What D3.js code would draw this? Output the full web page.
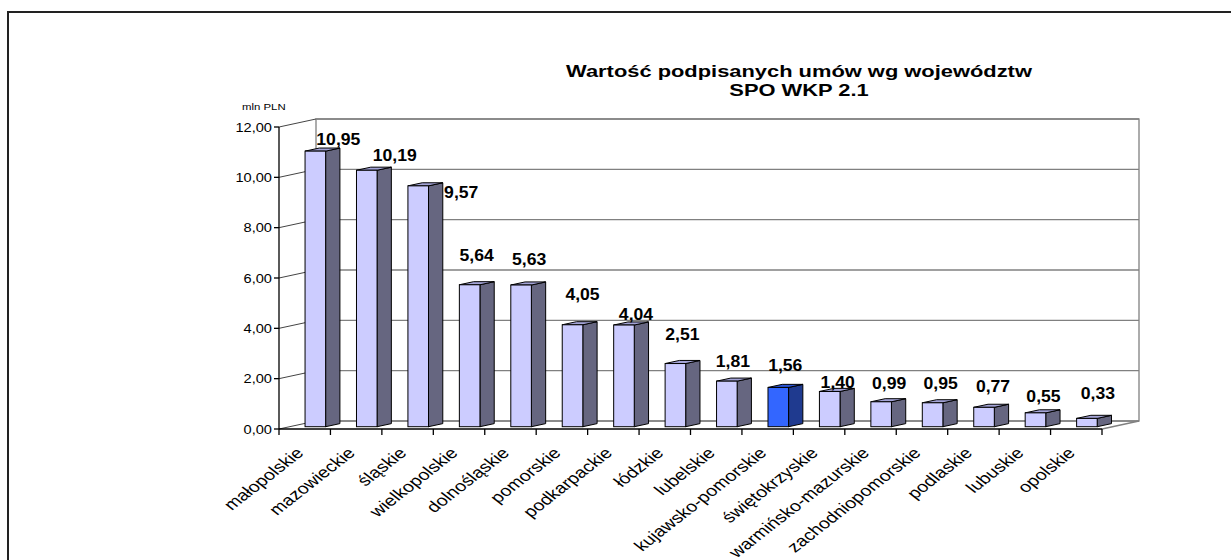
<!DOCTYPE html>
<html>
<head>
<meta charset="utf-8">
<script src="https://cdn.jsdelivr.net/npm/d3@7"></script>
<style>
  html, body { margin: 0; padding: 0; background: #ffffff; }
  svg { display: block; }
  text { font-family: Arial, "Liberation Sans", sans-serif; }
</style>
</head>
<body>
<script>
// ---- data ----
const categories = ["małopolskie", "mazowieckie", "śląskie", "wielkopolskie", "dolnośląskie",
  "pomorskie", "podkarpackie", "łódzkie", "lubelskie", "kujawsko-pomorskie", "świętokrzyskie",
  "warmińsko-mazurskie", "zachodniopomorskie", "podlaskie", "lubuskie", "opolskie"];
const values = [10.95, 10.19, 9.57, 5.64, 5.63, 4.05, 4.04, 2.51, 1.81, 1.56, 1.40, 0.99, 0.95, 0.77, 0.55, 0.33];
const highlighted = ["kujawsko-pomorskie"];
const yTicks = [0, 2, 4, 6, 8, 10, 12];
const titleLines = ["Wartość podpisanych umów wg województw", "SPO WKP 2.1"];
const unitLabel = "mln PLN";

// ---- layout (label placement nudges, px) ----
const labelNudgeX = [15, 20, 35, -1, 0, 2, 4, -1, -2, -1, 0, 0, 0, 1, 0, 3];
const labelNudgeY = [9, 6, 27, -9, -5, -10, 10, -9, 1, -1, 12, 2, 1, 0, 4, -4];

const W = 1231, H = 560;
const SX = 1.28; // horizontal text stretch of the original picture
const DX = 37, DY = -8; // depth projection
const F0 = 0.287, F1 = 0.673;

const svg = d3.select("body").append("svg").attr("width", W).attr("height", H);

// outer frame
svg.append("path").attr("d", `M8,${H} L8,12 L${W},12`)
  .attr("fill", "none").attr("stroke", "#222").attr("stroke-width", 2);

const x = d3.scaleBand().domain(categories).range([279, 1102]).paddingInner(0).paddingOuter(0);
const y = d3.scaleLinear().domain([0, 12]).range([429, 127]);
const fmt = v => d3.format(".2f")(v).replace(".", ",");

const x0 = x.range()[0], x1 = x.range()[1];

// back wall
svg.append("rect")
  .attr("x", x0 + DX).attr("y", y(12) + DY)
  .attr("width", x1 - x0).attr("height", y(0) - y(12))
  .attr("fill", "#fff").attr("stroke", "#808080").attr("stroke-width", 1.3);

// gridlines on the back wall and side wall
const grid = svg.append("g");
grid.selectAll("line.back").data(yTicks).join("line").attr("class", "back")
  .attr("x1", x0 + DX).attr("x2", x1 + DX)
  .attr("y1", d => y(d) + DY).attr("y2", d => y(d) + DY)
  .attr("stroke", "#808080").attr("stroke-width", 1.3);
grid.selectAll("line.side").data(yTicks).join("line").attr("class", "side")
  .attr("x1", x0).attr("x2", x0 + DX)
  .attr("y1", d => y(d)).attr("y2", d => y(d) + DY)
  .attr("stroke", "#444").attr("stroke-width", 1);
// floor right edge
svg.append("line").attr("x1", x1).attr("y1", y(0)).attr("x2", x1 + DX).attr("y2", y(0) + DY)
  .attr("stroke", "#808080").attr("stroke-width", 1.3);

// bars
const bw = x.bandwidth();
const barW = bw * 0.4;
const ddx = (F1 - F0) * DX, ddy = (F1 - F0) * DY;
const bars = svg.append("g").selectAll("g").data(categories.map((c, i) => ({ c, v: values[i], i })))
  .join("g");
function geom(d) {
  const left = x(d.c) + bw * 0.3 + F0 * DX;
  const yb = y(0) + F0 * DY;
  const yt = y(d.v) + F0 * DY;
  return { left, yb, yt };
}
const isHi = d => highlighted.includes(d.c);
bars.append("path")
  .attr("d", d => { const g = geom(d); return `M${g.left + barW},${g.yt} L${g.left + barW + ddx},${g.yt + ddy} L${g.left + barW + ddx},${g.yb + ddy} L${g.left + barW},${g.yb} Z`; })
  .attr("fill", d => isHi(d) ? "#1f3a8f" : "#666680")
  .attr("stroke", "#000").attr("stroke-width", 1).attr("stroke-linejoin", "round");
bars.append("path")
  .attr("d", d => { const g = geom(d); return `M${g.left},${g.yt} L${g.left + barW},${g.yt} L${g.left + barW + ddx},${g.yt + ddy} L${g.left + ddx},${g.yt + ddy} Z`; })
  .attr("fill", d => isHi(d) ? "#2a55d6" : "#a3a3d6")
  .attr("stroke", "#000").attr("stroke-width", 1).attr("stroke-linejoin", "round");
bars.append("rect")
  .attr("x", d => geom(d).left).attr("y", d => geom(d).yt)
  .attr("width", barW).attr("height", d => geom(d).yb - geom(d).yt)
  .attr("fill", d => isHi(d) ? "#3366ff" : "#ccccff")
  .attr("stroke", "#000").attr("stroke-width", 1);

// value labels
bars.append("text")
  .attr("transform", d => {
    const g = geom(d);
    return `translate(${g.left + barW / 2 + 8 + labelNudgeX[d.i]},${g.yt - 15 + labelNudgeY[d.i]}) scale(1.1,1)`;
  })
  .attr("text-anchor", "middle")
  .attr("font-size", 16).attr("font-weight", "bold").attr("fill", "#000")
  .text(d => fmt(d.v));

// y axis
const yAxis = svg.append("g");
yAxis.append("line").attr("x1", x0).attr("x2", x0).attr("y1", y(12)).attr("y2", y(0))
  .attr("stroke", "#000").attr("stroke-width", 1.3);
yAxis.selectAll("line.tick").data(yTicks).join("line").attr("class", "tick")
  .attr("x1", x0 - 5).attr("x2", x0).attr("y1", d => y(d)).attr("y2", d => y(d))
  .attr("stroke", "#000").attr("stroke-width", 1.3);
yAxis.selectAll("text").data(yTicks).join("text")
  .attr("transform", d => `translate(${x0 - 7},${y(d) + 4.5}) scale(1.17,1)`)
  .attr("text-anchor", "end").attr("font-size", 12.5).attr("fill", "#000")
  .text(d => fmt(d));

svg.append("text")
  .attr("transform", `translate(${x0 - 37},${110}) scale(1.2,1)`)
  .attr("font-size", 9.5).attr("fill", "#000").text(unitLabel);

// x axis
const xAxis = svg.append("g");
xAxis.append("line").attr("x1", x0).attr("x2", x1).attr("y1", y(0)).attr("y2", y(0))
  .attr("stroke", "#000").attr("stroke-width", 1.3);
const bounds = categories.map(c => x(c)).concat([x1]);
xAxis.selectAll("line.tick").data(bounds).join("line").attr("class", "tick")
  .attr("x1", d => d).attr("x2", d => d).attr("y1", y(0)).attr("y2", y(0) + 6)
  .attr("stroke", "#000").attr("stroke-width", 1.3);
xAxis.selectAll("text").data(categories).join("text")
  .attr("transform", c => `translate(${x(c) + bw / 2},${y(0) + 25}) scale(${SX},1) rotate(-45)`)
  .attr("text-anchor", "end").attr("font-size", 15.3).attr("fill", "#000")
  .text(c => c);

// title
svg.append("g").selectAll("text").data(titleLines).join("text")
  .attr("transform", (t, i) => `translate(799,${77 + i * 19}) scale(${SX},1)`)
  .attr("text-anchor", "middle").attr("font-size", 17.1).attr("font-weight", "bold").attr("fill", "#000")
  .text(t => t);
</script>
</body>
</html>
